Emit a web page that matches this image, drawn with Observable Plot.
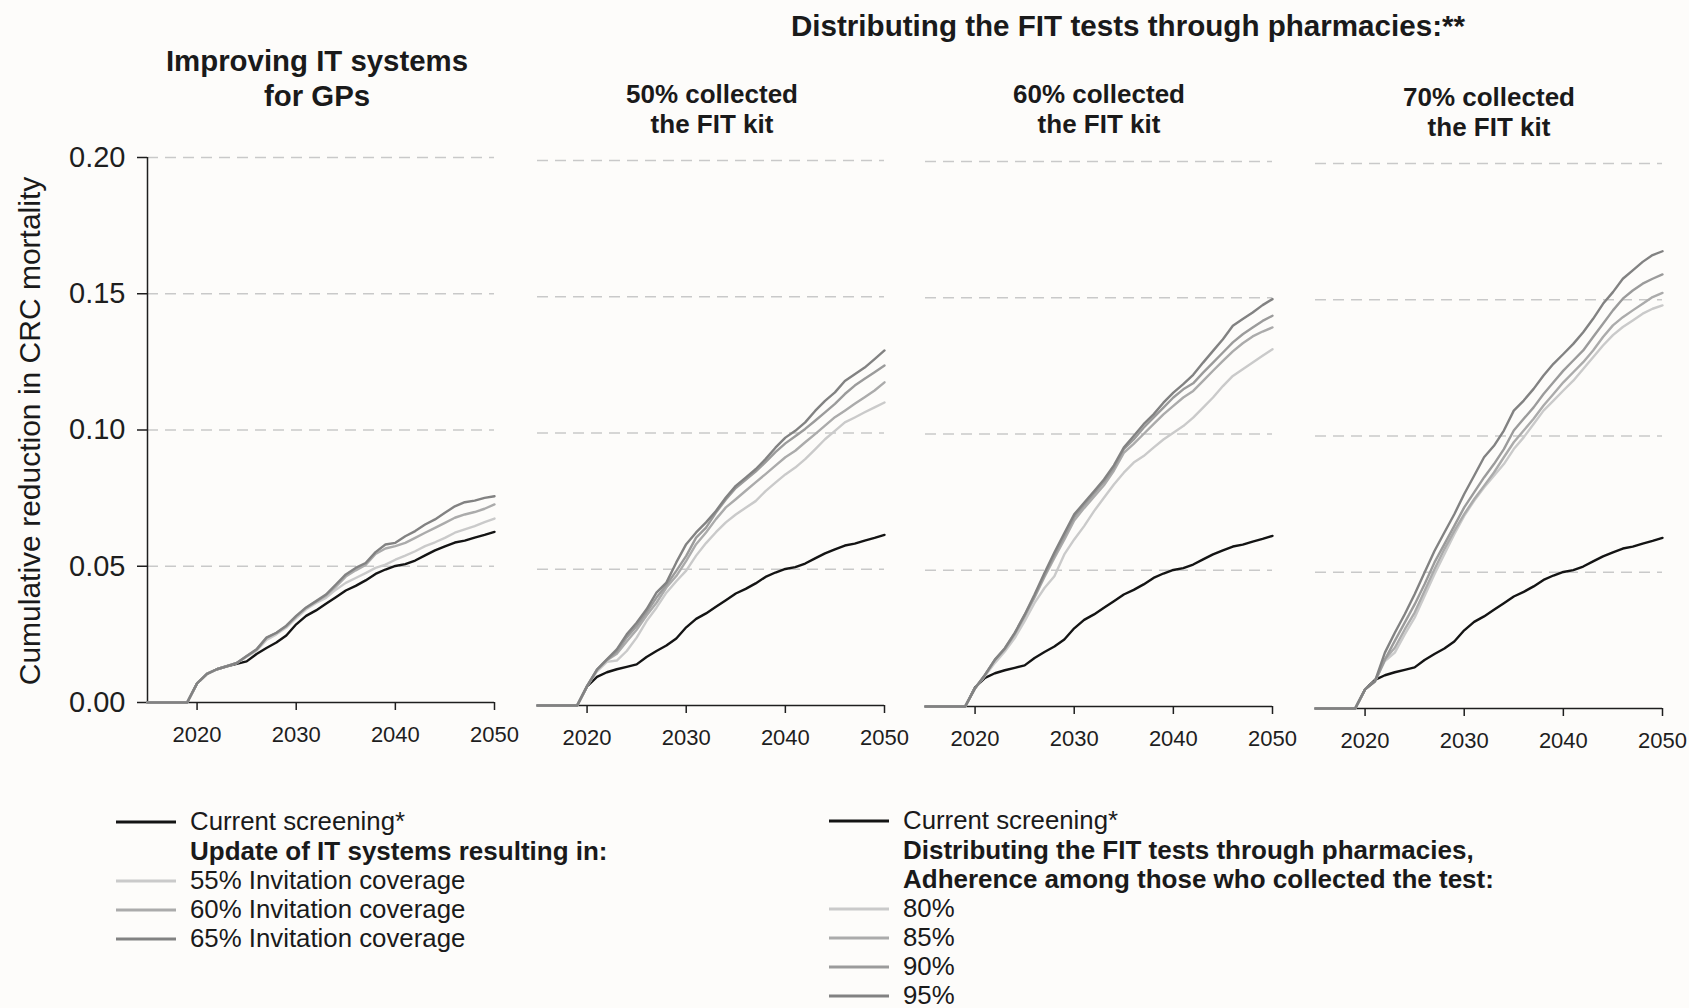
<!DOCTYPE html>
<html><head><meta charset="utf-8">
<script src="https://cdn.jsdelivr.net/npm/d3@7"></script>
<script src="https://cdn.jsdelivr.net/npm/@observablehq/plot@0.6"></script>
<style>
html,body{margin:0;padding:0;background:#fdfcfa;}
#root{position:relative;width:1689px;height:1008px;overflow:hidden;font-family:"Liberation Sans",Arial,Helvetica,sans-serif;color:#1a1a1a;background:#fdfcfa;}
.ctr{position:absolute;transform:translate(-50%,-50%);white-space:nowrap;font-weight:bold;text-align:center;line-height:1;}
.row{position:absolute;transform:translateY(-50%);white-space:nowrap;line-height:0.85;font-size:25.8px;}
.row.b{font-weight:bold;font-size:26px;}
.sw{position:absolute;height:3px;width:60px;transform:translateY(-50%);}
.panel{position:absolute;}
.panel svg{max-width:none !important;display:block;}
.ylab{position:absolute;left:30px;top:431px;transform:translate(-50%,-50%) rotate(-90deg);white-space:nowrap;font-size:30px;line-height:1;}
</style></head>
<body><div id="root"></div>
<script>
// ---------- data ----------
const years = d3.range(2015, 2051);
const xTicks = [2020, 2030, 2040, 2050];
const yTicks = [0, 0.05, 0.10, 0.15, 0.20];
const gridTicks = [0.05, 0.10, 0.15, 0.20];

const current = [0,0,0,0,0, .0070,.0105,.0122,.0133,.0142, .0151,.0178,.0200,.0220,.0246, .0287,.0318,.0338,.0362,.0386, .0411,.0428,.0448,.0472,.0488, .0501,.0508,.0521,.0540,.0558, .0573,.0587,.0594,.0605,.0615, .0626];

// Improving IT systems for GPs
const it55 = [0,0,0,0,0, .0070,.0105,.0122,.0133,.0145, .0168,.0190,.0230,.0250,.0275, .0310,.0342,.0365,.0384,.0414, .0439,.0457,.0475,.0494,.0506, .0524,.0539,.0555,.0574,.0588, .0604,.0623,.0635,.0647,.0662, .0675];
const it60 = [0,0,0,0,0, .0070,.0105,.0122,.0133,.0145, .0170,.0194,.0237,.0255,.0280, .0316,.0347,.0370,.0392,.0425, .0462,.0485,.0505,.0545,.0565, .0574,.0586,.0604,.0623,.0641, .0659,.0678,.0690,.0699,.0711, .0727];
const it65 = [0,0,0,0,0, .0070,.0105,.0122,.0133,.0145, .0171,.0195,.0238,.0256,.0282, .0318,.0349,.0372,.0396,.0433, .0470,.0494,.0512,.0552,.0580, .0586,.0610,.0629,.0653,.0672, .0696,.0720,.0735,.0741,.0751, .0757];

// 50% collected the FIT kit
const c50_80 = [0,0,0,0,0, .0071,.0125,.0160,.0165,.0200, .0249,.0310,.0359,.0414,.0456, .0495,.0550,.0596,.0636,.0672, .0701,.0726,.0750,.0787,.0818, .0848,.0873,.0904,.0940,.0977, .1008,.1039,.1057,.1076,.1094, .1112];
const c50_85 = [0,0,0,0,0, .0071,.0130,.0166,.0190,.0235, .0278,.0330,.0377,.0433,.0475, .0531,.0592,.0635,.0684,.0727, .0757,.0788,.0819,.0849,.0880, .0911,.0935,.0966,.0996,.1027, .1058,.1082,.1107,.1131,.1156, .1186];
const c50_90 = [0,0,0,0,0, .0071,.0132,.0168,.0198,.0250, .0292,.0342,.0396,.0442,.0494, .0549,.0616,.0653,.0708,.0756, .0798,.0828,.0858,.0893,.0930, .0962,.0988,.1015,.1045,.1076, .1107,.1143,.1174,.1199,.1223, .1248];
const c50_95 = [0,0,0,0,0, .0071,.0132,.0169,.0206,.0261, .0304,.0353,.0414,.0451,.0525, .0592,.0635,.0672,.0714,.0763, .0806,.0836,.0867,.0904,.0946, .0983,.1008,.1039,.1081,.1118, .1149,.1191,.1216,.1240,.1271, .1303];

// 60% collected the FIT kit
const c60_80 = [0,0,0,0,0, .0067,.0112,.0160,.0202,.0251, .0313,.0380,.0435,.0478,.0558, .0613,.0662,.0717,.0766,.0815, .0858,.0895,.0919,.0950,.0980, .1005,.1029,.1060,.1097,.1134, .1176,.1213,.1238,.1262,.1287, .1311];
const c60_85 = [0,0,0,0,0, .0067,.0116,.0170,.0210,.0265, .0330,.0400,.0475,.0545,.0612, .0683,.0728,.0770,.0812,.0865, .0931,.0964,.1000,.1036,.1072, .1103,.1134,.1158,.1195,.1232, .1268,.1303,.1333,.1358,.1376, .1391];
const c60_90 = [0,0,0,0,0, .0067,.0116,.0171,.0212,.0268, .0335,.0405,.0482,.0555,.0625, .0695,.0740,.0782,.0825,.0875, .0944,.0980,.1023,.1060,.1097, .1134,.1164,.1186,.1225,.1262, .1299,.1336,.1366,.1391,.1415, .1434];
const c60_95 = [0,0,0,0,0, .0067,.0116,.0172,.0214,.0270, .0337,.0411,.0490,.0565,.0636, .0705,.0748,.0790,.0833,.0885, .0950,.0993,.1036,.1072,.1115, .1152,.1183,.1217,.1262,.1305, .1348,.1397,.1422,.1446,.1473, .1495];

// 70% collected the FIT kit
const c70_80 = [0,0,0,0,0, .0070,.0100,.0174,.0205,.0272, .0333,.0413,.0493,.0566,.0640, .0707,.0762,.0811,.0854,.0897, .0952,.0995,.1044,.1093,.1130, .1167,.1203,.1246,.1289,.1332, .1370,.1400,.1424,.1449,.1467, .1479];
const c70_85 = [0,0,0,0,0, .0070,.0100,.0180,.0223,.0290, .0352,.0431,.0511,.0585,.0652, .0713,.0768,.0817,.0866,.0922, .0977,.1020,.1063,.1112,.1154, .1197,.1234,.1271,.1314,.1363, .1406,.1436,.1461,.1485,.1510, .1525];
const c70_90 = [0,0,0,0,0, .0070,.0100,.0180,.0248,.0315, .0382,.0456,.0536,.0603,.0670, .0738,.0793,.0848,.0897,.0952, .1020,.1063,.1105,.1154,.1197, .1240,.1277,.1314,.1363,.1412, .1461,.1504,.1534,.1559,.1577, .1593];
const c70_95 = [0,0,0,0,0, .0070,.0100,.0205,.0278,.0346, .0419,.0499,.0578,.0646,.0713, .0787,.0854,.0922,.0964,.1020, .1093,.1130,.1173,.1222,.1265, .1301,.1338,.1381,.1430,.1485, .1528,.1577,.1608,.1639,.1664, .1678];

const seriesNames = ["Current", "Light", "Mid", "Mid2", "Dark"];
const seriesColors = ["#141414", "#cacaca", "#ababab", "#9b9b9b", "#828282"];

const panelTitles = ["50% collected|the FIT kit", "60% collected|the FIT kit", "70% collected|the FIT kit"];

// ---------- layout ----------
const root = document.getElementById("root");
const FW = 347, FH = 545, MT = 10, MB = 60, MR = 22;

const panels = [
  {left: 147, top: 157, showY: true, series: [["Current", current], ["Light", it55], ["Mid", it60], ["Dark", it65]]},
  {left: 537, top: 160, showY: false, series: [["Current", current], ["Light", c50_80], ["Mid", c50_85], ["Mid2", c50_90], ["Dark", c50_95]]},
  {left: 925, top: 161, showY: false, series: [["Current", current], ["Light", c60_80], ["Mid", c60_85], ["Mid2", c60_90], ["Dark", c60_95]]},
  {left: 1315, top: 163, showY: false, series: [["Current", current], ["Light", c70_80], ["Mid", c70_85], ["Mid2", c70_90], ["Dark", c70_95]]}
];

panels.forEach(p => {
  const ML = p.showY ? p.left : 20;
  const W = ML + FW + MR, H = MT + FH + MB;
  const data = [];
  p.series.forEach(([name, vals]) => vals.forEach((v, i) => data.push({year: years[i], value: v, series: name})));
  const chart = Plot.plot({
    width: W, height: H,
    marginLeft: ML, marginRight: MR, marginTop: MT, marginBottom: MB,
    style: {background: "transparent", fontFamily: '"Liberation Sans", Arial, sans-serif', color: "#1a1a1a", overflow: "visible", maxWidth: "none"},
    x: {domain: [2015, 2050], axis: null},
    y: {domain: [0, 0.20], axis: null},
    color: {domain: seriesNames, range: seriesColors},
    marks: [
      Plot.ruleY(gridTicks, {stroke: "#c9c9c9", strokeWidth: 1.6, strokeDasharray: "11 7"}),
      Plot.ruleY([0], {stroke: "#1e1e1e", strokeWidth: 1.5}),
      Plot.axisX({ticks: xTicks, tickFormat: d => String(d), tickSize: 8, tickPadding: 16, fontSize: 22, label: null, color: "#1e1e1e", strokeWidth: 1.5}),
      p.showY ? Plot.ruleX([2015], {y1: 0, y2: 0.20, stroke: "#1e1e1e", strokeWidth: 1.5}) : null,
      p.showY ? Plot.axisY({ticks: yTicks, tickFormat: d3.format(".2f"), tickSize: 10, tickPadding: 12, fontSize: 29, label: null, color: "#1e1e1e", strokeWidth: 1.5}) : null,
      Plot.line(data, {x: "year", y: "value", z: "series", stroke: "series", strokeWidth: 2.4, strokeLinejoin: "round", curve: "linear"})
    ]
  });
  const wrap = document.createElement("div");
  wrap.className = "panel";
  wrap.style.left = (p.left - ML) + "px";
  wrap.style.top = (p.top - MT) + "px";
  wrap.style.width = W + "px";
  wrap.style.height = H + "px";
  wrap.appendChild(chart);
  root.appendChild(wrap);
});

// ---------- text ----------
function addCtr(text, x, y, size) {
  const d = document.createElement("div");
  d.className = "ctr";
  d.style.left = x + "px"; d.style.top = y + "px"; d.style.fontSize = size + "px";
  d.textContent = text;
  root.appendChild(d);
}
addCtr("Distributing the FIT tests through pharmacies:**", 1128, 26, 29.6);
addCtr("Improving IT systems", 317, 61, 29.4);
addCtr("for GPs", 317, 96, 29.4);
const subCenters = [[712, 94], [1099, 94], [1489, 97]];
panelTitles.forEach((t, i) => {
  const [l1, l2] = t.split("|");
  addCtr(l1, subCenters[i][0], subCenters[i][1], 26);
  addCtr(l2, subCenters[i][0], subCenters[i][1] + 30, 26);
});

const yl = document.createElement("div");
yl.className = "ylab";
yl.textContent = "Cumulative reduction in CRC mortality";
root.appendChild(yl);

// ---------- legends ----------
const legendLeft = [
  ["Current screening*", "#141414", false],
  ["Update of IT systems resulting in:", null, true],
  ["55% Invitation coverage", "#cacaca", false],
  ["60% Invitation coverage", "#ababab", false],
  ["65% Invitation coverage", "#828282", false]
];
const legendRight = [
  ["Current screening*", "#141414", false],
  ["Distributing the FIT tests through pharmacies,", null, true],
  ["Adherence among those who collected the test:", null, true],
  ["80%", "#cacaca", false],
  ["85%", "#ababab", false],
  ["90%", "#9b9b9b", false],
  ["95%", "#828282", false]
];
function addLegend(items, swX, txtX, y0, dy) {
  items.forEach(([label, col, bold], i) => {
    const y = y0 + i * dy;
    if (col) {
      const s = document.createElement("div");
      s.className = "sw";
      s.style.left = swX + "px"; s.style.top = y + "px"; s.style.background = col;
      root.appendChild(s);
    }
    const t = document.createElement("div");
    t.className = "row" + (bold ? " b" : "");
    t.style.left = txtX + "px"; t.style.top = y + "px";
    t.textContent = label;
    root.appendChild(t);
  });
}
addLegend(legendLeft, 116, 190, 822, 29.3);
addLegend(legendRight, 829, 903, 821, 29.2);
</script>
</body></html>
